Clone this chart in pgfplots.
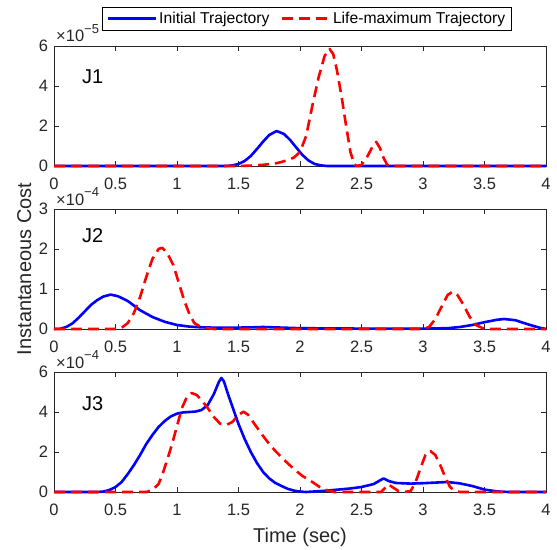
\documentclass[border=0pt]{standalone}
\usepackage{pgfplots}
\pgfplotsset{compat=1.18}
\usepackage{fontspec}
\setmainfont{Liberation Sans}
\definecolor{axgray}{rgb}{0.15,0.15,0.15}
\pgfplotsset{
  matlab/.style={
    scale only axis, width=492bp, height=120bp,
    xmin=0, xmax=4, xtick={0,0.5,1,1.5,2,2.5,3,3.5,4},
    axis line style={axgray, line width=0.5bp},
    tick style={axgray, line width=0.5bp},
    major tick length=5bp,
    tick align=inside,
    ticklabel style={font=\fontsize{16.5bp}{19bp}\selectfont, text=axgray},
    xticklabel style={yshift=-8.5bp},
    yticklabel style={xshift=-2.5bp},
    /pgf/number format/assume math mode=true,
    clip=false,
    every axis plot/.append style={line width=2.6bp},
    label style={font=\fontsize{20bp}{24bp}\selectfont, text=axgray},
  },
  blueline/.style={color=blue, solid, line join=round},
  redline/.style={color=red, dash pattern=on 11bp off 6bp, line join=round},
}
\newcommand{\jlab}[1]{\fontsize{20bp}{24bp}\selectfont #1}
\newcommand{\expo}[1]{\node[anchor=base west, text=axgray, font=\fontsize{16.5bp}{18bp}\selectfont, inner sep=0pt]
  at ([xshift=2bp,yshift=4bp]axis description cs:0,1)
  {×10\raisebox{0.5em}{\fontsize{13bp}{14bp}\selectfont −#1}};}

\begin{document}
\begin{tikzpicture}
\path[use as bounding box] (-54bp,-58bp) rectangle (503bp,492bp);

% J1
\begin{axis}[matlab, at={(0bp,326bp)}, anchor=south west,
    ymin=0, ymax=6, ytick={0,2,4,6},
    legend style={at={(axis description cs:0.514,1.229)}, anchor=center,
      legend columns=2, draw=black, line width=0.5bp, fill=white,
      font=\fontsize{15.7bp}{18bp}\selectfont, inner xsep=4bp, inner ysep=3bp,
      /tikz/every even column/.append style={column sep=9bp}},
    legend image code/.code={\draw[#1] (0bp,0bp) -- (48bp,0bp);}]
\expo{5}
\addplot[blueline] coordinates {
(0,0) (1.40,0) (1.45,0.03) (1.5,0.1) (1.55,0.25) (1.6,0.5) (1.65,0.85) (1.7,1.22)
(1.75,1.55) (1.81,1.75) (1.87,1.6) (1.92,1.3) (1.97,0.92) (2.02,0.55) (2.07,0.27)
(2.12,0.1) (2.17,0.03) (2.22,0) (4,0)
};
\addlegendentry{Initial Trajectory}
\addplot[redline] coordinates {
(0,0) (1.5,0) (1.6,0.02) (1.7,0.06) (1.8,0.13) (1.85,0.2) (1.9,0.3) (1.95,0.42)
(2.0,0.7) (2.05,1.5) (2.1,3.0) (2.15,4.4) (2.2,5.5) (2.24,5.85) (2.27,5.6) (2.3,4.8)
(2.34,3.4) (2.37,2.2) (2.41,0.7) (2.44,0.1) (2.46,0) (2.5,0.05) (2.55,0.5) (2.6,1.1)
(2.62,1.2) (2.65,0.9) (2.68,0.4) (2.71,0.05) (2.73,0) (4,0)
};
\addlegendentry{Life-maximum Trajectory}
\node[anchor=base west] at (axis cs:0.2,4.1) {\jlab{J1}};
\end{axis}

% J2
\begin{axis}[matlab, at={(0bp,163bp)}, anchor=south west,
    ymin=0, ymax=3, ytick={0,1,2,3},
    ylabel={Instantaneous Cost},
    ylabel style={at={(axis description cs:-0.0467,0.5)}, anchor=base}]
\expo{4}
\addplot[blueline] coordinates {
(0,0) (0.05,0.005) (0.1,0.05) (0.15,0.14) (0.2,0.28) (0.25,0.44) (0.3,0.6) (0.35,0.72)
(0.4,0.81) (0.46,0.86) (0.52,0.82) (0.6,0.7) (0.7,0.47) (0.8,0.3) (0.9,0.18) (1.0,0.1)
(1.1,0.06) (1.2,0.04) (1.4,0.03) (1.6,0.04) (1.7,0.05) (1.8,0.04) (2.0,0.02) (2.5,0.01)
(3.0,0.01) (3.2,0.02) (3.3,0.05) (3.4,0.1) (3.5,0.17) (3.6,0.23) (3.66,0.25) (3.75,0.22)
(3.85,0.12) (3.95,0.03) (4.0,0)
};
\addplot[redline] coordinates {
(0,0) (0.5,0) (0.55,0.03) (0.6,0.15) (0.65,0.4) (0.7,0.8) (0.75,1.3) (0.8,1.75)
(0.85,2.0) (0.88,2.03) (0.92,1.9) (0.97,1.6) (1.02,1.1) (1.06,0.7) (1.1,0.38)
(1.14,0.15) (1.2,0.04) (1.3,0) (3.0,0) (3.05,0.05) (3.1,0.25) (3.15,0.55) (3.2,0.85)
(3.24,0.93) (3.28,0.85) (3.33,0.6) (3.38,0.3) (3.43,0.1) (3.5,0) (4,0)
};
\node[anchor=base west] at (axis cs:0.2,2.17) {\jlab{J2}};
\end{axis}

% J3
\begin{axis}[matlab, at={(0bp,0bp)}, anchor=south west,
    ymin=0, ymax=6, ytick={0,2,4,6},
    xlabel={Time (sec)},
    xlabel style={at={(axis description cs:0.5,-0.417)}, anchor=base}]
\expo{4}
\addplot[blueline] coordinates {
(0,0) (0.35,0) (0.4,0.02) (0.45,0.1) (0.5,0.25) (0.55,0.5) (0.6,0.9) (0.65,1.35)
(0.7,1.85) (0.75,2.4) (0.8,2.85) (0.85,3.25) (0.9,3.55) (0.95,3.78) (1.0,3.92)
(1.05,3.98) (1.1,4.0) (1.15,4.02) (1.2,4.1) (1.25,4.35) (1.3,4.9) (1.34,5.5) (1.36,5.7)
(1.38,5.55) (1.42,4.8) (1.46,4.1) (1.5,3.4) (1.55,2.65) (1.6,2.0) (1.65,1.45) (1.7,1.0)
(1.75,0.68) (1.8,0.45) (1.85,0.3) (1.9,0.16) (1.95,0.07) (2.0,0.02) (2.05,0) (2.2,0.06)
(2.4,0.17) (2.5,0.25) (2.6,0.4) (2.65,0.58) (2.68,0.68) (2.72,0.55) (2.78,0.45)
(2.9,0.42) (3.0,0.44) (3.1,0.47) (3.2,0.5) (3.3,0.43) (3.4,0.3) (3.5,0.12) (3.6,0.03)
(3.7,0) (4,0)
};
\addplot[redline] coordinates {
(0,0) (0.75,0) (0.8,0.1) (0.85,0.4) (0.88,0.85) (0.92,1.6) (0.96,2.4) (1.0,3.3)
(1.04,4.2) (1.08,4.75) (1.12,4.95) (1.16,4.85) (1.2,4.6) (1.25,4.2) (1.3,3.75)
(1.35,3.42) (1.4,3.35) (1.45,3.5) (1.5,3.85) (1.54,4.02) (1.58,3.85) (1.63,3.4)
(1.7,2.8) (1.75,2.4) (1.8,2.05) (1.88,1.55) (1.95,1.15) (2.02,0.8) (2.1,0.5)
(2.16,0.25) (2.22,0.08) (2.28,0) (2.66,0) (2.69,0.2) (2.72,0.38) (2.75,0.25) (2.8,0.05)
(2.85,0) (2.9,0.05) (2.94,0.5) (2.98,1.2) (3.02,1.85) (3.06,2.05) (3.1,1.85) (3.14,1.35)
(3.18,0.75) (3.22,0.25) (3.26,0.05) (3.3,0) (4,0)
};
\node[anchor=base west] at (axis cs:0.2,4.1) {\jlab{J3}};
\end{axis}
\end{tikzpicture}
\end{document}
